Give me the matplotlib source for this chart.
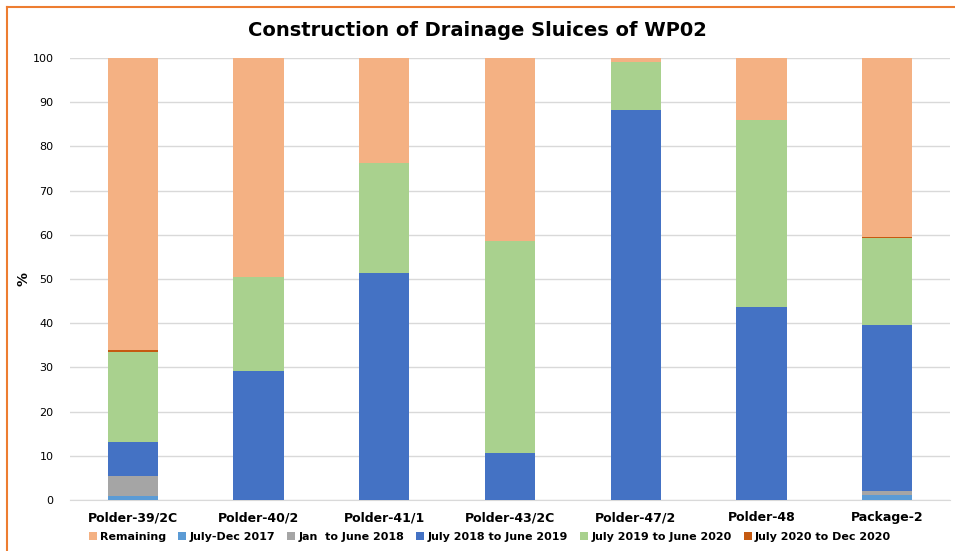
import matplotlib
matplotlib.use("Agg")
import matplotlib.pyplot as plt
from matplotlib.lines import Line2D
import numpy as np

categories = ["Polder-39/2C", "Polder-40/2", "Polder-41/1", "Polder-43/2C", "Polder-47/2", "Polder-48", "Package-2"]
jul_dec_2017 = [1.0, 0, 0, 0, 0, 0, 1.2]
jan_jun_2018 = [4.5, 0, 0, 0, 0, 0, 0.8]
jul18_jun19 = [7.6, 29.2, 51.4, 10.6, 88.2, 43.7, 37.6]
jul19_jun20 = [20.4, 21.2, 24.8, 48.0, 10.9, 42.3, 19.7]
jul20_dec20 = [0.5, 0, 0, 0, 0, 0, 0.3]
remaining = [100 - a - b - c - d - e for a, b, c, d, e in zip(jul_dec_2017, jan_jun_2018, jul18_jun19, jul19_jun20, jul20_dec20)]

series = [
    ("July-Dec 2017", jul_dec_2017, "#5B9BD5"),
    ("Jan  to June 2018", jan_jun_2018, "#A5A5A5"),
    ("July 2018 to June 2019", jul18_jun19, "#4472C4"),
    ("July 2019 to June 2020", jul19_jun20, "#A9D18E"),
    ("July 2020 to Dec 2020", jul20_dec20, "#C55A11"),
    ("Remaining", remaining, "#F4B183"),
]

W, H = 955, 551
fig = plt.figure(figsize=(W/100, H/100), dpi=100)
ax = fig.add_axes([70/W, 1 - 500/H, 880/W, 442/H])
x = np.arange(len(categories))
bottom = np.zeros(len(categories))
handles = {}
for name, vals, col in series:
    v = np.array(vals, dtype=float)
    h = ax.bar(x, v, 0.4, bottom=bottom, color=col, label=name, zorder=3)
    handles[name] = h
    bottom += v

ax.set_xlim(-0.5, len(categories) - 0.5)
ax.set_ylim(0, 100)
ax.set_yticks(range(0, 101, 10))
ax.yaxis.grid(True, color="#D9D9D9", linewidth=1, zorder=0)
for s in ax.spines.values():
    s.set_visible(False)
ax.spines["bottom"].set_visible(True)
ax.spines["bottom"].set_color("#D9D9D9")
ax.tick_params(axis="both", length=0)
ax.tick_params(axis="y", labelsize=8, pad=12)
ax.set_xticks(x)
ax.set_xticklabels(categories, fontsize=9, fontweight="bold")
ax.tick_params(axis="x", pad=8)
ax.set_ylabel("%", fontsize=10, fontweight="bold")
ax.yaxis.set_label_coords(-40/880, 0.5)

fig.text(0.5, 1 - 30/H, "Construction of Drainage Sluices of WP02", ha="center", va="center",
         fontsize=14, fontweight="bold")

order = ["Remaining", "July-Dec 2017", "Jan  to June 2018", "July 2018 to June 2019", "July 2019 to June 2020", "July 2020 to Dec 2020"]
leg = fig.legend([handles[n] for n in order], order, loc="center", bbox_to_anchor=(0.513, 1 - 537/H),
                 ncol=6, frameon=False, prop={"size": 8, "weight": "bold"},
                 handlelength=0.7, handleheight=0.7, handletextpad=0.3, columnspacing=1.1)

# orange frame edges (top and left) as in the reference screenshot
fig.add_artist(Line2D([7/W, 1], [1 - 7/H, 1 - 7/H], transform=fig.transFigure, color="#ED7D31", linewidth=1.5))
fig.add_artist(Line2D([7/W, 7/W], [0, 1 - 7/H], transform=fig.transFigure, color="#ED7D31", linewidth=1.5))
fig.savefig("out.png", dpi=100)
